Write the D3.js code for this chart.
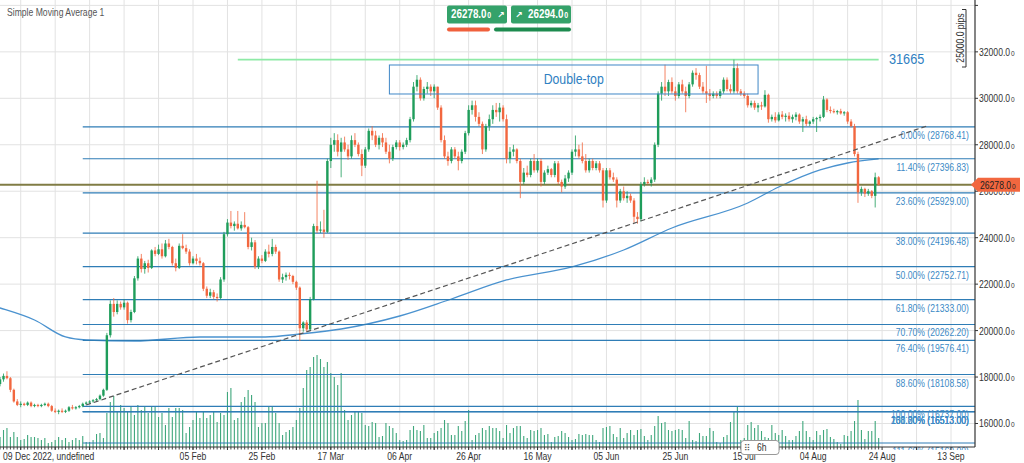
<html>
<head>
<script src="https://d3js.org/d3.v7.min.js"></script>
<title>Simple Moving Average 1</title>
<style>
  body { margin: 0; background: #fff; }
  svg { font-family: "Liberation Sans", Arial, sans-serif; }
  .grid line { stroke: #e2e2e2; stroke-width: 1; }
  .fib line { stroke: #2f7db6; stroke-width: 1.2; }
  .fib text { fill: #3c8ac6; text-anchor: end; font-size: 10.5px; }
  .tick-label { fill: #333; font-size: 10.5px; }
</style>
</head>
<body>
<svg id="chart" width="1024" height="463"></svg>
<script>
// ---------- data ----------
const firstCandle = "2022-12-11";   // one candle per day from here
// [open, high, low, close]
const candles = [
  [17700,18000,17600,17900],[17900,18150,17800,18050],[18050,18250,17900,17950],[17950,18000,17350,17450],[17450,17500,16900,16950],
  [16950,17050,16750,16800],[16800,16950,16700,16850],[16850,16900,16750,16800],[16800,16950,16750,16900],[16900,16950,16700,16750],
  [16750,16850,16700,16800],[16800,16850,16700,16750],[16750,16850,16700,16800],[16800,16900,16750,16850],[16850,16900,16700,16750],
  [16750,16800,16500,16550],[16550,16650,16450,16500],[16500,16600,16400,16550],[16550,16650,16450,16500],[16500,16600,16450,16550],
  [16550,16750,16500,16700],[16700,16800,16600,16650],[16650,16750,16600,16700],[16700,16800,16650,16750],[16750,16900,16700,16850],
  [16850,16950,16800,16900],[16900,17000,16850,16950],[16950,17050,16900,17000],[17000,17100,16950,17050],[17050,17250,17000,17200],
  [17200,17500,17150,17450],[17450,19900,17400,19800],[19800,21300,19700,21150],[21150,21400,20600,20800],[20800,21300,20700,21150],
  [21150,21250,20900,21000],[21000,21350,20900,21200],[21200,21250,20300,20450],[20450,20900,20350,20800],[20800,22350,20750,22250],
  [22250,23200,22150,23100],[23100,23300,22500,22650],[22650,23000,22450,22900],[22900,23050,22500,22700],[22700,23500,22650,23450],
  [23450,23600,23200,23300],[23300,23700,23250,23500],[23500,23750,23100,23200],[23200,23900,23150,23750],[23750,23950,23500,23600],
  [23600,23650,22800,22900],[22900,23100,22550,22700],[22700,23750,22650,23650],[23650,24150,23500,23550],[23550,23700,23300,23400],
  [23400,23500,22800,22900],[22900,23200,22850,23100],[23100,23300,22850,23000],[23000,23150,22800,22900],[22900,22950,21700,21800],
  [21800,21900,21400,21500],[21500,21800,21400,21650],[21650,21750,21350,21450],[21450,21600,21250,21400],[21400,22300,21350,22200],
  [22200,24250,22100,24150],[24150,24800,24050,24650],[24650,25150,24400,24500],[24500,24700,24300,24600],[24600,25150,24350,24400],
  [24400,24700,24300,24550],[24550,25100,24400,24450],[24450,24500,23500,23600],[23600,24000,23450,23800],[23800,23900,22650,22750],
  [22750,23200,22650,23100],[23100,23250,22900,23000],[23000,23500,22950,23400],[23400,23700,23150,23300],[23300,23950,23200,23600],
  [23600,23700,23300,23400],[23400,23450,22100,22200],[22200,22450,22050,22300],[22300,22500,22150,22400],[22400,22500,22200,22350],
  [22350,22400,22000,22100],[22100,22150,21750,21850],[21850,21900,19550,20100],[20100,20400,19950,20350],[20350,20450,19950,20050],
  [20050,21450,20000,21350],[21350,24600,21300,24500],[24500,26450,24200,24300],[24300,24700,24200,24350],[24350,25200,24000,24250],
  [24250,27400,24200,27300],[27300,28300,27000,28000],[28000,28500,27700,28200],[28200,28450,27500,27700],[27700,28300,26600,28100],
  [28100,28350,27700,27800],[27800,28000,27350,27500],[27500,28400,27400,28200],[28200,28500,27900,28000],[28000,28100,27500,27600],
  [27600,27800,26650,27100],[27100,27900,27000,27800],[27800,28700,27700,28600],[28600,28800,28200,28400],[28400,28600,27900,28000],
  [28000,28400,27800,28300],[28300,28500,27900,28100],[28100,28300,27600,27700],[27700,28000,27200,27400],[27400,28000,27300,27900],
  [27900,28200,27800,28100],[28100,28200,27750,27900],[27900,28100,27800,28000],[28000,28300,27900,28200],[28200,29200,28100,29100],
  [29100,30700,29000,30500],[30500,31000,30300,30800],[30800,30900,29900,30000],[30000,30500,29900,30400],[30400,30700,30200,30500],
  [30500,30600,30100,30300],[30300,30600,30000,30500],[30500,30500,29500,29600],[29600,29700,28100,28200],[28200,28400,27400,27500],
  [27500,27700,27100,27300],[27300,27900,27200,27800],[27800,27900,27400,27500],[27500,27700,26900,27300],[27300,27800,27200,27700],
  [27700,28600,27600,28500],[28500,29700,28400,29500],[29500,29900,29300,29700],[29700,29900,29000,29200],[29200,29400,28800,28900],
  [28900,29000,27600,27800],[27800,28900,27700,28800],[28800,29300,28600,29100],[29100,29700,28900,29500],[29500,29800,29200,29400],
  [29400,29800,29000,29600],[29600,29700,29000,29100],[29100,29300,27200,27400],[27400,27900,27200,27700],[27700,28000,27500,27800],
  [27800,27850,27200,27300],[27300,27400,25700,26400],[26400,27000,26300,26800],[26800,27100,26600,26700],[26700,27400,26600,27300],
  [27300,27600,26800,26900],[26900,27400,26800,27300],[27300,27400,26200,26400],[26400,26900,26300,26800],[26800,27100,26700,26950],
  [26950,27000,26600,26700],[26700,27300,26600,27200],[27200,27300,26300,26400],[26400,26500,25950,26200],[26200,26700,26100,26550],
  [26550,26900,26400,26800],[26800,27800,26700,27700],[27700,28400,27500,27800],[27800,28000,27400,27500],[27500,28100,27200,27300],
  [27300,27600,26800,26900],[26900,27400,26800,27300],[27300,27400,26900,27000],[27000,27300,26900,27200],[27200,27300,26800,26900],
  [26900,27000,25300,25600],[25600,27000,25500,26900],[26900,27000,26500,26600],[26600,26800,26400,26500],[26500,26600,25300,25600],
  [25600,26100,25500,26000],[26000,26200,25600,25700],[25700,26000,25500,25800],[25800,25900,25500,25600],[25600,25700,24650,24900],
  [24900,25100,24600,24800],[24800,26400,24700,26300],[26300,26600,26200,26400],[26400,26500,26300,26350],[26350,26600,26200,26500],
  [26500,28100,26400,28000],[28000,30300,27900,30200],[30200,30700,29900,30500],[30500,31450,30100,30300],[30300,30800,30100,30700],
  [30700,30900,30200,30300],[30300,30500,29900,30100],[30100,30700,30000,30600],[30600,30800,30200,30300],[30300,30500,29400,30100],
  [30100,30700,30000,30600],[30600,31200,30500,31100],[31100,31300,30800,31000],[31000,31100,30400,30500],[30500,30700,30200,30300],
  [30300,31400,29800,30200],[30200,30400,29900,30100],[30100,30300,30000,30200],[30200,30300,30000,30100],[30100,30400,30000,30300],
  [30300,30900,30200,30800],[30800,30900,30300,30400],[30400,30600,30200,30300],[30300,31665,30200,31300],[31300,31500,30200,30300],
  [30300,30400,30100,30200],[30200,30300,30000,30100],[30100,30200,29600,29700],[29700,29900,29600,29800],[29800,29900,29500,29600],
  [29600,29800,29400,29700],[29700,29850,29500,29650],[29650,30350,29600,30150],[30150,30200,28950,29100],[29100,29300,29000,29200],
  [29200,29400,28950,29050],[29050,29400,29000,29300],[29300,29450,29100,29200],[29200,29350,29000,29250],[29250,29400,29000,29100],
  [29100,29300,28950,29200],[29200,29400,29050,29300],[29300,29350,28900,29000],[29000,29200,28550,29100],[29100,29250,28800,28900],
  [28900,29050,28800,29000],[29000,29200,28900,29100],[29100,29200,28550,29150],[29150,29300,29000,29200],[29200,30100,29150,29950],
  [29950,30000,29400,29500],[29500,29650,29350,29450],[29450,29550,29350,29400],[29400,29500,29300,29450],[29450,29550,29300,29350],
  [29350,29450,29250,29400],[29400,29450,28900,29000],[29000,29100,28750,28800],[28800,28900,27500,27600],[27600,27700,25500,25950],
  [25950,26200,25800,26100],[26100,26150,25750,25900],[25900,26100,25800,26000],[26000,26050,25700,25800],[25800,26800,25300,26600],
  [26600,26650,26250,26278]
];
const volumes = [
  10,17,19,10,15,10,7,8,12,10, 10,9,7,9,4,5,7,10,7,9, 5,7,9,7,11,5,5,7,13,14,
  9,34,45,51,35,42,39,35,40,32, 42,37,40,34,40,40,30,34,22,39, 30,39,39,37,14,20,27,35,29,35,
  29,32,35,25,34,32,55,59,27,29, 45,50,57,52,45,20,24,24,40,40, 34,24,12,15,17,20,27,39,59,77,
  80,90,92,88,80,85,74,70,62,74, 37,27,32,35,35,34,22,21,25,24, 10,11,24,21,19,14,7,6,7,17,
  21,17,16,22,9,9,14,16,19,27, 24,12,12,21,16,26,37,7,12,14, 19,17,21,19,19,16,9,22,14,19,
  21,21,11,9,17,16,17,19,12,13, 5,10,11,16,14,10,7,8,13,12, 13,12,12,7,5,19,20,21,13,10,
  19,9,14,17,12,17,18,11,7,12, 21,31,24,25,17,16,17,18,17,9, 26,7,6,14,11,11,19,16,5,4,
  10,12,25,35,40,7,9,22,25,19, 22,16,10,9,22,14,12,17,11,7, 7,11,16,26,16,10,7,16,12,17,
  18,10,8,5,3,12,11,16,26,47, 17,8,16,16,26,9
];
// moving average, read at a few days (offset from first candle)
const maDays   = [-4, 0, 10, 19, 25, 39, 58, 77, 87, 99, 116, 131, 147, 166, 181, 195, 217, 226, 238, 246, 255];
const maValues = [21150, 20973, 20456, 19724, 19595, 19552, 19724, 19724, 19853, 20069, 20628, 21360, 22178, 22738, 23470, 24417, 25493, 26182, 26914, 27215, 27388];

const fibLabels = ["0.00%", "11.40%", "23.60%", "38.00%", "50.00%", "61.80%", "70.70%", "76.40%", "88.60%", "100.00%", "161.80%", "138.20%", "200.00%", "111.60%"];
const fibValues = [28768.41, 27396.83, 25929.00, 24196.48, 22752.71, 21333.00, 20262.20, 19576.41, 18108.58, 16737.00, 16513.00, 16513.00, 16513.00, 15160.00];
const fibStart = "2023-01-04";

const trendDates  = ["2023-01-05", "2023-09-06"];
const trendValues = [16797, 28808];

const resistanceDates = ["2023-02-18", "2023-08-23"];
const resistanceValue = 31665;

const boxDates  = ["2023-04-03", "2023-07-19"];
const boxValues = [31434, 30186];
const boxLabel  = "Double-top";

const lastPrice = 26278;
const askPrice  = 26294;
const yTicks = [16000, 18000, 20000, 22000, 24000, 26000, 28000, 30000, 32000, 34000];
const xLabelDates = ["2023-02-05","2023-02-25","2023-03-17","2023-04-06","2023-04-26","2023-05-16","2023-06-05","2023-06-25","2023-07-15","2023-08-04","2023-08-24","2023-09-13"];

// ---------- layout ----------
const svg = d3.select("svg#chart");
const plotRight = 975, plotBottom = 447;
const up = "#1f9d5b", down = "#f2673f";
const parse = d3.utcParse("%Y-%m-%d");
const day0 = parse(firstCandle);
const SQ = 0.82;   // the chart's face is a narrow sans: labels get squeezed to this width

function squeeze(sel) {
  sel.each(function () {
    const t = d3.select(this);
    const prev = t.attr("transform");
    if (prev) t.attr("transform", prev + " scale(" + SQ + ",1)");
    else {
      const x0 = +t.attr("x");
      t.attr("transform", "translate(" + x0 + ",0) scale(" + SQ + ",1) translate(" + (-x0) + ",0)");
    }
  });
  return sel;
}
// price text with the small trailing digit, drawn as two separate texts
function price(g, x0, y0, value, size, small, attrs) {
  const a = g.append("text").attr("x", x0).attr("y", y0).attr("font-size", size).text(d3.format(".1f")(value));
  const b = g.append("text").attr("y", y0).attr("font-size", small).text("0");
  Object.entries(attrs).forEach(([k, v]) => { a.attr(k, v); b.attr(k, v); });
  const wa = a.node().getComputedTextLength() * SQ;
  b.attr("x", x0 + wa + 0.8);
  squeeze(a); squeeze(b);
}

const x = d3.scaleUtc().domain([parse("2023-02-05"), parse("2023-09-13")]).range([193, 951]);
const y = d3.scaleLinear().domain([16000, 32000]).range([423.5, 51.85]);
const vol = d3.scaleLinear().domain([0, 92]).range([plotBottom, 355]);
const dayX = k => x(d3.utcDay.offset(day0, k));

const defs = svg.append("defs");
defs.append("clipPath").attr("id", "plot")
  .append("rect").attr("x", 0).attr("y", 0).attr("width", plotRight).attr("height", plotBottom);
defs.append("clipPath").attr("id", "fibclip")
  .append("rect").attr("x", 0).attr("y", 0).attr("width", plotRight).attr("height", 450);

// gridlines
const grid = svg.append("g").attr("class", "grid").attr("clip-path", "url(#plot)");
grid.selectAll("line.h").data(yTicks).join("line").attr("class", "h")
  .attr("x1", 0).attr("x2", plotRight).attr("y1", d => y(d)).attr("y2", d => y(d));
const tenDays = d3.utcDays(parse("2022-12-17"), parse("2023-09-20"), 10);
grid.selectAll("line.v").data(tenDays).join("line").attr("class", "v")
  .attr("x1", d => x(d)).attr("x2", d => x(d)).attr("y1", 0).attr("y2", plotBottom);

// volume
svg.append("g").attr("clip-path", "url(#plot)").selectAll("line").data(volumes).join("line")
  .attr("x1", (d, i) => dayX(i)).attr("x2", (d, i) => dayX(i))
  .attr("y1", plotBottom).attr("y2", d => vol(d))
  .attr("stroke", "#3fa77c").attr("stroke-width", 1.1);

// moving average
svg.append("path").attr("clip-path", "url(#plot)")
  .datum(maDays.map((d, i) => [dayX(d), y(maValues[i])]))
  .attr("d", d3.line().curve(d3.curveMonotoneX))
  .attr("fill", "none").attr("stroke", "#4a92cf").attr("stroke-width", 1.3);

// fibonacci levels
const fib = svg.append("g").attr("class", "fib").attr("clip-path", "url(#fibclip)");
fib.selectAll("line").data(fibValues).join("line")
  .attr("x1", x(parse(fibStart))).attr("x2", plotRight)
  .attr("y1", d => y(d)).attr("y2", d => y(d));
squeeze(fib.selectAll("text").data(fibValues).join("text")
  .attr("x", 969).attr("y", d => y(d) + 12)
  .text((d, i) => fibLabels[i] + " (" + d3.format(".2f")(d) + ")"));

// current price line
svg.append("line").attr("x1", 0).attr("x2", plotRight)
  .attr("y1", y(lastPrice)).attr("y2", y(lastPrice))
  .attr("stroke", "#807c45").attr("stroke-width", 2);

// resistance line
svg.append("line")
  .attr("x1", x(parse(resistanceDates[0]))).attr("x2", x(parse(resistanceDates[1])))
  .attr("y1", y(resistanceValue)).attr("y2", y(resistanceValue))
  .attr("stroke", "#8eeaa6").attr("stroke-width", 1.6);
squeeze(svg.append("text").attr("x", 889).attr("y", y(resistanceValue) + 4)
  .attr("font-size", 15.5).attr("fill", "#2f80c2").text(resistanceValue));

// candles
const cg = svg.append("g").attr("clip-path", "url(#plot)");
cg.selectAll("line").data(candles).join("line")
  .attr("x1", (d, i) => dayX(i)).attr("x2", (d, i) => dayX(i))
  .attr("y1", d => y(d[1])).attr("y2", d => y(d[2]))
  .attr("stroke", d => d[3] >= d[0] ? up : down).attr("stroke-width", 1).attr("opacity", 0.8);
cg.selectAll("rect").data(candles).join("rect")
  .attr("x", (d, i) => dayX(i) - 1.2).attr("width", 2.4)
  .attr("y", d => y(Math.max(d[0], d[3])))
  .attr("height", d => Math.max(1, Math.abs(y(d[0]) - y(d[3]))))
  .attr("fill", d => d[3] >= d[0] ? up : down);

// double-top box
svg.append("rect")
  .attr("x", x(parse(boxDates[0]))).attr("y", y(boxValues[0]))
  .attr("width", x(parse(boxDates[1])) - x(parse(boxDates[0])))
  .attr("height", y(boxValues[1]) - y(boxValues[0]))
  .attr("fill", "none").attr("stroke", "#3f87c6").attr("stroke-width", 1);
squeeze(svg.append("text")
  .attr("x", (x(parse(boxDates[0])) + x(parse(boxDates[1]))) / 2)
  .attr("y", (y(boxValues[0]) + y(boxValues[1])) / 2 + 5)
  .attr("text-anchor", "middle").attr("font-size", 15).attr("fill", "#2f80c2").text(boxLabel));

// trendline
svg.append("line")
  .attr("x1", x(parse(trendDates[0]))).attr("y1", y(trendValues[0]))
  .attr("x2", x(parse(trendDates[1]))).attr("y2", y(trendValues[1]))
  .attr("stroke", "#555").attr("stroke-width", 1.2).attr("stroke-dasharray", "5,3");

// y axis
svg.append("line").attr("x1", plotRight).attr("x2", plotRight).attr("y1", 0).attr("y2", plotBottom)
  .attr("stroke", "#333").attr("stroke-width", 1.2);
svg.selectAll("line.ytick").data(yTicks).join("line").attr("class", "ytick")
  .attr("x1", plotRight).attr("x2", plotRight + 3).attr("y1", d => y(d)).attr("y2", d => y(d))
  .attr("stroke", "#333");
const yAxisG = svg.append("g");
yTicks.filter(d => d <= 32000).forEach(d => price(yAxisG, 979, y(d) + 4, d, 10.5, 8, {fill: "#333"}));

// pips bracket
svg.append("path").attr("d", "M962,9.5H966V67H962").attr("fill", "none").attr("stroke", "#333");
squeeze(svg.append("text").attr("transform", "translate(964,38) rotate(-90)")
  .attr("text-anchor", "middle").attr("font-size", 10.5).attr("fill", "#333").text("25000.0 pips"));

// last price tag
svg.append("path").attr("d", "M971," + y(lastPrice) + "L978," + (y(lastPrice) - 7) + "H1020V" + (y(lastPrice) + 7) + "H978Z")
  .attr("fill", "#f2673f");
price(svg, 980, y(lastPrice) + 4, lastPrice, 10.5, 8, {fill: "#222"});

// x axis
svg.append("line").attr("x1", 0).attr("x2", plotRight).attr("y1", plotBottom).attr("y2", plotBottom)
  .attr("stroke", "#333");
svg.selectAll("line.xday").data(candles).join("line").attr("class", "xday")
  .attr("x1", (d, i) => dayX(i)).attr("x2", (d, i) => dayX(i))
  .attr("y1", plotBottom).attr("y2", plotBottom + 2.5).attr("stroke", "#444");
svg.selectAll("line.xten").data(tenDays.filter(d => x(d) < plotRight + 15)).join("line").attr("class", "xten")
  .attr("x1", d => x(d)).attr("x2", d => x(d))
  .attr("y1", plotBottom).attr("y2", plotBottom + 3).attr("stroke", "#333");
squeeze(svg.selectAll("text.xlab").data(xLabelDates).join("text").attr("class", "xlab tick-label")
  .attr("x", d => x(parse(d))).attr("y", 460).attr("text-anchor", "middle")
  .text(d => d3.utcFormat("%d %b")(parse(d))));
squeeze(svg.append("text").attr("class", "tick-label").attr("x", 3).attr("y", 460)
  .text(d3.utcFormat("%d %b %Y")(parse("2022-12-09")) + ", undefined"));

// timeframe badge
svg.append("rect").attr("x", 741).attr("y", 440.5).attr("width", 38).attr("height", 14).attr("rx", 3)
  .attr("fill", "#fff").attr("stroke", "#999");
svg.append("text").attr("x", 744).attr("y", 451).attr("font-size", 9).attr("font-family", "DejaVu Sans")
  .attr("fill", "#555").text("⠿");
squeeze(svg.append("text").attr("class", "tick-label").attr("x", 757).attr("y", 451.5).text("6h"));

// title
squeeze(svg.append("text").attr("x", 7).attr("y", 16).attr("font-size", 10.5).attr("fill", "#555").text("Simple Moving Average 1"));

// bid / ask badges
const badgeX = [447, 511];
badgeX.forEach(bx => svg.append("rect").attr("x", bx).attr("y", 5.5).attr("width", 60).attr("height", 18).attr("rx", 2).attr("fill", "#34a26a"));
const bold = {fill: "#fff", "font-weight": "bold"};
price(svg, 451, 18.5, lastPrice, 12, 8.5, bold);
svg.append("text").attr("x", 497).attr("y", 18).attr("font-size", 9).attr("font-family", "DejaVu Sans")
  .attr("font-weight", "bold").attr("fill", "#fff").text("↗");
svg.append("text").attr("x", 515).attr("y", 18).attr("font-size", 9).attr("font-family", "DejaVu Sans")
  .attr("font-weight", "bold").attr("fill", "#fff").text("↗");
price(svg, 528, 18.5, askPrice, 12, 8.5, bold);
svg.append("rect").attr("x", 447).attr("y", 27.5).attr("width", 43).attr("height", 4).attr("rx", 2).attr("fill", "#f0603c");
svg.append("rect").attr("x", 494).attr("y", 27.5).attr("width", 77).attr("height", 4).attr("rx", 2).attr("fill", "#1d8b4f");
</script>
</body>
</html>
